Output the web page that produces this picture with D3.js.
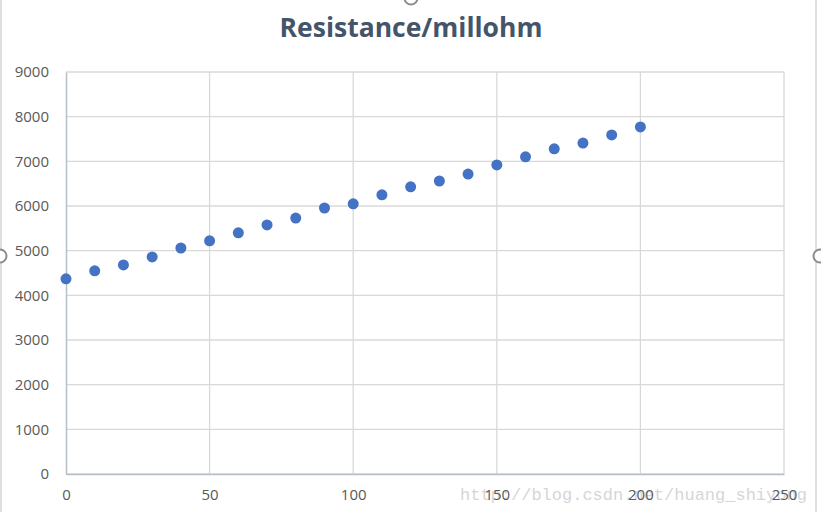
<!DOCTYPE html>
<html><head><meta charset="utf-8">
<script src="https://cdn.jsdelivr.net/npm/d3@7"></script>
<style>body{margin:0;background:#fff;overflow:hidden}</style>
</head><body>
<svg id="c" width="821" height="512"></svg>
<script>
const xValues = [0,10,20,30,40,50,60,70,80,90,100,110,120,130,140,150,160,170,180,190,200];
const resistance = [4370,4550,4680,4860,5060,5220,5400,5575,5730,5955,6050,6250,6430,6560,6715,6920,7100,7280,7410,7590,7770];
const xTicks = [0,50,100,150,200,250];
const yTicks = [0,1000,2000,3000,4000,5000,6000,7000,8000,9000];
const title = "Resistance/millohm";
const watermark = "http://blog.csdn.net/huang_shiyong";

const svg = d3.select("#c");
const W = 821, H = 512;
const m = {left:66, right:784, top:72, bottom:474};
const x = d3.scaleLinear().domain([0,250]).range([m.left, m.right]);
const y = d3.scaleLinear().domain([0,9000]).range([m.bottom, m.top]);

// frame
svg.append("rect").attr("x",1).attr("y",-2).attr("width",815).attr("height",H+4)
  .attr("fill","#fff").attr("stroke","#bfbfbf").attr("stroke-width",1);

svg.append("text").attr("x",411).attr("y",37).attr("text-anchor","middle")
  .attr("font-family","'Open Sans', sans-serif").attr("font-weight","bold")
  .attr("font-size",26.5).attr("fill","#44546a").text(title);

// grid
svg.append("g").selectAll("line").data(yTicks).join("line")
  .attr("x1",m.left).attr("x2",m.right).attr("y1",d=>y(d)).attr("y2",d=>y(d))
  .attr("stroke","#d9d9d9").attr("stroke-width",1.3);
svg.append("g").selectAll("line").data(xTicks.filter(d=>d>0)).join("line")
  .attr("y1",m.top).attr("y2",m.bottom).attr("x1",d=>x(d)).attr("x2",d=>x(d))
  .attr("stroke","#d9d9d9").attr("stroke-width",1.3);

// axes
const fmt = d3.format("d");
const ya = svg.append("g").attr("transform",`translate(${m.left},0)`)
  .call(d3.axisLeft(y).tickValues(yTicks).tickFormat(fmt).tickSize(0).tickPadding(17));
const xa = svg.append("g").attr("transform",`translate(0,${m.bottom})`)
  .call(d3.axisBottom(x).tickValues(xTicks).tickFormat(fmt).tickSize(0).tickPadding(15));
[ya,xa].forEach(a=>{
  a.select(".domain").attr("stroke","#b8bec8").attr("stroke-width",1.5);
  a.selectAll("text").attr("font-family","'Open Sans', sans-serif").attr("font-size",15).attr("fill","#595959");
});

// watermark
svg.append("text").attr("x",460).attr("y",500)
  .attr("font-family","'Liberation Mono', monospace").attr("font-size",17)
  .attr("fill","#d6d6d6").text(watermark);
xa.raise();

// points
svg.append("g").selectAll("circle").data(xValues).join("circle")
  .attr("cx",d=>x(d)).attr("cy",(d,i)=>y(resistance[i])).attr("r",5.5)
  .attr("fill","#4472c4");

// selection handles
const handles = [[0,256],[820,256],[411,-2]];
svg.append("g").selectAll("circle").data(handles).join("circle")
  .attr("cx",d=>d[0]).attr("cy",d=>d[1]).attr("r",6.5)
  .attr("fill","#fff").attr("stroke","#8c8c8c").attr("stroke-width",2);
</script>
</body></html>
